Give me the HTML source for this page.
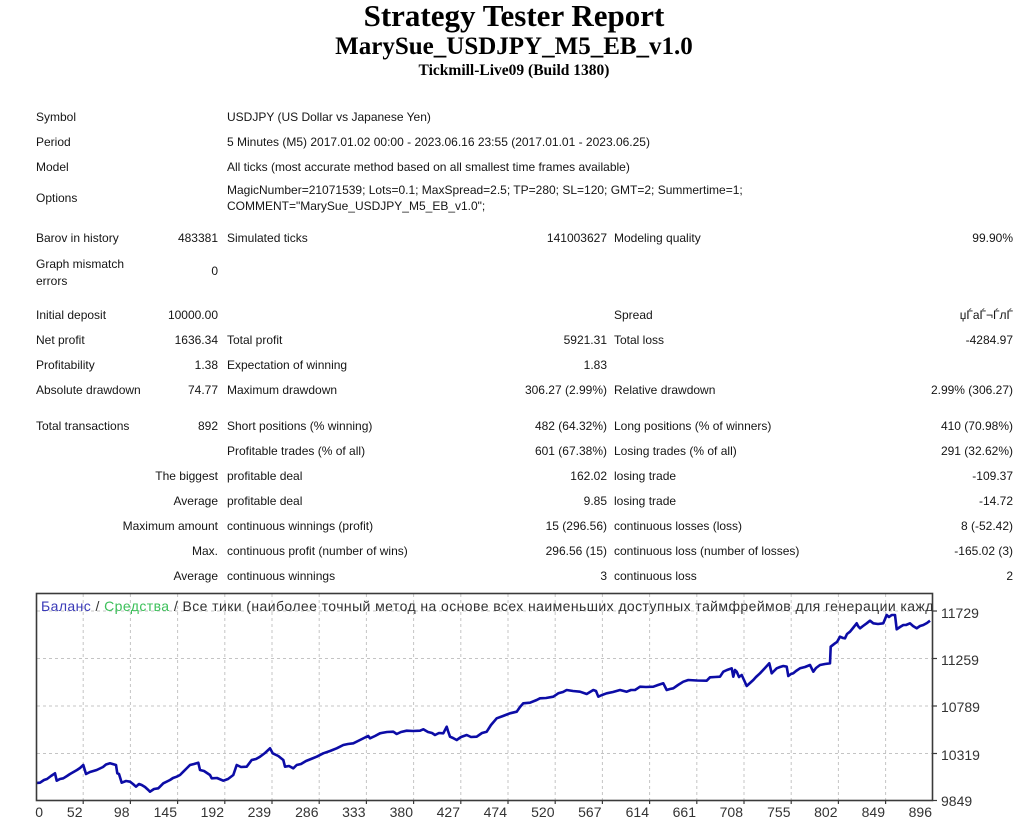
<!DOCTYPE html>
<html>
<head>
<meta charset="utf-8">
<style>
html,body{margin:0;padding:0;background:#fff;}
body{width:1024px;height:828px;position:relative;overflow:hidden;font-family:"Liberation Sans","DejaVu Sans",sans-serif;color:#151515;}
.t{position:absolute;font-size:12px;line-height:14px;white-space:nowrap;}
.r{text-align:right;}
.h{position:absolute;left:0;width:1028px;text-align:center;font-family:"Liberation Serif",serif;font-weight:bold;color:#000;white-space:nowrap;}
</style>
</head>
<body>
<div class="h" style="top:-2px;font-size:31px;line-height:36px;">Strategy Tester Report</div>
<div class="h" style="top:32px;font-size:25px;line-height:30px;">MarySue_USDJPY_M5_EB_v1.0</div>
<div class="h" style="top:62px;font-size:15.5px;line-height:18px;">Tickmill-Live09 (Build 1380)</div>

<!-- rows -->
<div class="t" style="left:36px;top:110px;">Symbol</div>
<div class="t" style="left:227px;top:110px;">USDJPY (US Dollar vs Japanese Yen)</div>

<div class="t" style="left:36px;top:135px;">Period</div>
<div class="t" style="left:227px;top:135px;">5 Minutes (M5) 2017.01.02 00:00 - 2023.06.16 23:55 (2017.01.01 - 2023.06.25)</div>

<div class="t" style="left:36px;top:160px;">Model</div>
<div class="t" style="left:227px;top:160px;">All ticks (most accurate method based on all smallest time frames available)</div>

<div class="t" style="left:36px;top:191px;">Options</div>
<div class="t" style="left:227px;top:183px;">MagicNumber=21071539; Lots=0.1; MaxSpread=2.5; TP=280; SL=120; GMT=2; Summertime=1;</div>
<div class="t" style="left:227px;top:199px;">COMMENT="MarySue_USDJPY_M5_EB_v1.0";</div>

<div class="t" style="left:36px;top:231px;">Barov in history</div>
<div class="t r" style="right:806px;top:231px;">483381</div>
<div class="t" style="left:227px;top:231px;">Simulated ticks</div>
<div class="t r" style="right:417px;top:231px;">141003627</div>
<div class="t" style="left:614px;top:231px;">Modeling quality</div>
<div class="t r" style="right:11px;top:231px;">99.90%</div>

<div class="t" style="left:36px;top:257px;">Graph mismatch</div>
<div class="t" style="left:36px;top:274px;">errors</div>
<div class="t r" style="right:806px;top:264px;">0</div>

<div class="t" style="left:36px;top:308px;">Initial deposit</div>
<div class="t r" style="right:806px;top:308px;">10000.00</div>
<div class="t" style="left:614px;top:308px;">Spread</div>
<div class="t r" style="right:11px;top:308px;">џЃаЃ¬ЃлЃ</div>

<div class="t" style="left:36px;top:333px;">Net profit</div>
<div class="t r" style="right:806px;top:333px;">1636.34</div>
<div class="t" style="left:227px;top:333px;">Total profit</div>
<div class="t r" style="right:417px;top:333px;">5921.31</div>
<div class="t" style="left:614px;top:333px;">Total loss</div>
<div class="t r" style="right:11px;top:333px;">-4284.97</div>

<div class="t" style="left:36px;top:358px;">Profitability</div>
<div class="t r" style="right:806px;top:358px;">1.38</div>
<div class="t" style="left:227px;top:358px;">Expectation of winning</div>
<div class="t r" style="right:417px;top:358px;">1.83</div>

<div class="t" style="left:36px;top:383px;">Absolute drawdown</div>
<div class="t r" style="right:806px;top:383px;">74.77</div>
<div class="t" style="left:227px;top:383px;">Maximum drawdown</div>
<div class="t r" style="right:417px;top:383px;">306.27 (2.99%)</div>
<div class="t" style="left:614px;top:383px;">Relative drawdown</div>
<div class="t r" style="right:11px;top:383px;">2.99% (306.27)</div>

<div class="t" style="left:36px;top:419px;">Total transactions</div>
<div class="t r" style="right:806px;top:419px;">892</div>
<div class="t" style="left:227px;top:419px;">Short positions (% winning)</div>
<div class="t r" style="right:417px;top:419px;">482 (64.32%)</div>
<div class="t" style="left:614px;top:419px;">Long positions (% of winners)</div>
<div class="t r" style="right:11px;top:419px;">410 (70.98%)</div>

<div class="t" style="left:227px;top:444px;">Profitable trades (% of all)</div>
<div class="t r" style="right:417px;top:444px;">601 (67.38%)</div>
<div class="t" style="left:614px;top:444px;">Losing trades (% of all)</div>
<div class="t r" style="right:11px;top:444px;">291 (32.62%)</div>

<div class="t r" style="right:806px;top:469px;">The biggest</div>
<div class="t" style="left:227px;top:469px;">profitable deal</div>
<div class="t r" style="right:417px;top:469px;">162.02</div>
<div class="t" style="left:614px;top:469px;">losing trade</div>
<div class="t r" style="right:11px;top:469px;">-109.37</div>

<div class="t r" style="right:806px;top:494px;">Average</div>
<div class="t" style="left:227px;top:494px;">profitable deal</div>
<div class="t r" style="right:417px;top:494px;">9.85</div>
<div class="t" style="left:614px;top:494px;">losing trade</div>
<div class="t r" style="right:11px;top:494px;">-14.72</div>

<div class="t r" style="right:806px;top:519px;">Maximum amount</div>
<div class="t" style="left:227px;top:519px;">continuous winnings (profit)</div>
<div class="t r" style="right:417px;top:519px;">15 (296.56)</div>
<div class="t" style="left:614px;top:519px;">continuous losses (loss)</div>
<div class="t r" style="right:11px;top:519px;">8 (-52.42)</div>

<div class="t r" style="right:806px;top:544px;">Max.</div>
<div class="t" style="left:227px;top:544px;">continuous profit (number of wins)</div>
<div class="t r" style="right:417px;top:544px;">296.56 (15)</div>
<div class="t" style="left:614px;top:544px;">continuous loss (number of losses)</div>
<div class="t r" style="right:11px;top:544px;">-165.02 (3)</div>

<div class="t r" style="right:806px;top:569px;">Average</div>
<div class="t" style="left:227px;top:569px;">continuous winnings</div>
<div class="t r" style="right:417px;top:569px;">3</div>
<div class="t" style="left:614px;top:569px;">continuous loss</div>
<div class="t r" style="right:11px;top:569px;">2</div>

<svg style="position:absolute;left:0;top:0;" width="1024" height="828" xmlns="http://www.w3.org/2000/svg">
  <defs>
    <clipPath id="c"><rect x="37" y="594" width="895" height="206"/></clipPath>
  </defs>
  <g stroke="#c4c4c4" stroke-width="1" stroke-dasharray="3,3" fill="none">
    <line x1="83.2" y1="594" x2="83.2" y2="800"/>
    <line x1="130.4" y1="594" x2="130.4" y2="800"/>
    <line x1="177.6" y1="594" x2="177.6" y2="800"/>
    <line x1="224.8" y1="594" x2="224.8" y2="800"/>
    <line x1="272" y1="594" x2="272" y2="800"/>
    <line x1="319.2" y1="594" x2="319.2" y2="800"/>
    <line x1="366.4" y1="594" x2="366.4" y2="800"/>
    <line x1="413.6" y1="594" x2="413.6" y2="800"/>
    <line x1="460.8" y1="594" x2="460.8" y2="800"/>
    <line x1="508" y1="594" x2="508" y2="800"/>
    <line x1="555.2" y1="594" x2="555.2" y2="800"/>
    <line x1="602.4" y1="594" x2="602.4" y2="800"/>
    <line x1="649.6" y1="594" x2="649.6" y2="800"/>
    <line x1="696.8" y1="594" x2="696.8" y2="800"/>
    <line x1="744" y1="594" x2="744" y2="800"/>
    <line x1="791.2" y1="594" x2="791.2" y2="800"/>
    <line x1="838.4" y1="594" x2="838.4" y2="800"/>
    <line x1="885.6" y1="594" x2="885.6" y2="800"/>
    <line x1="37" y1="611" x2="932" y2="611"/>
    <line x1="37" y1="658.5" x2="932" y2="658.5"/>
    <line x1="37" y1="706" x2="932" y2="706"/>
    <line x1="37" y1="753.5" x2="932" y2="753.5"/>
  </g>
  <g clip-path="url(#c)">
    <text x="41" y="611" font-family="Liberation Sans, DejaVu Sans, sans-serif" font-size="14" letter-spacing="0.42" fill="#333"><tspan fill="#3a3ab8">Баланс</tspan> / <tspan fill="#3cc05a">Средства</tspan> / Все тики (наиболее точный метод на основе всех наименьших доступных таймфреймов для генерации каждого тика)</text>
    <polyline fill="none" stroke="#0c0ca6" stroke-width="2.6" stroke-linejoin="round" points="36,783 40,782.7 44,780 47,779 51,776 55,773.3 56.7,780.7 60,779 63.3,778.3 67,776 70,774 77,770 80,768 83.3,765 86,774 90,772 96.7,770 103,767 106,764.5 110,763.3 116,765 117.3,773.3 119,774 121.7,782.7 126,781 130,781.7 133,784 136,786.7 139,784 141.7,785 145,787 148.3,790 150,791.7 154,789 158.3,788.3 163.3,783.3 170,780 173,778 176.7,776.7 180,775 183.3,771.7 187,768 190,765 194,764 198.3,762.7 200,770 204,771 210,775 211.7,778.3 217,778 223.3,780.7 228,779 233.3,775 236.7,765 241,767 246.7,766.7 251.7,760 256,759 260,756.7 265,753 270,748.3 272.7,753.3 278.3,756 283.3,760 285,766.7 289,766 293.3,768.3 296.7,765 301,764 306,761 311,759 316.7,756.7 323.3,753.3 330,751 336.7,748.3 343.3,745 348,744 353.3,743.3 360,740 366,737 368.3,736 370,738.3 375,736 380,733.3 387,732 393.3,731.7 396.7,734 401,732 406.7,730.7 413,731 420,730.7 423.3,729.3 428,732 432,733 435,735 439,733 443.3,733.3 446.7,726.7 448,731 450,736.7 453,738 456.7,740 461,737 466.7,735 471,737 476.7,736.7 482,733 486.7,731.7 491,725 496.7,718.3 503,716 510,713.3 516.7,711.7 520,707 523.3,703.3 530,702.7 536.7,700 540,698.3 546,698 553.3,696.7 558.3,693.3 563,692 566.7,690 573,691 580,691.7 586.7,694 590,692 593.3,690 596,691 598.3,696.7 602,695 606.7,693.3 613,692 620,690 626.7,691.7 631,690 635,690 640,686.7 646,687 653.3,686.7 658,685 663.3,683.3 666.7,690 670,689 673.3,688.3 678,685 683.3,681.7 688.3,680 697,680.5 706.7,680.7 710,677.3 715,677 720,676.7 723.3,671.7 727,670 731.7,668.3 733.3,676.7 735,670 736.7,671.7 739,677 741.7,675 744,680 746.7,686 750,683 753.3,680 756,677 760,673.3 765,668 769.3,663.3 771.7,673.3 774,671 776.7,668.3 780,667 783.3,666 786.7,666.7 788.3,676 791,674 793.3,673.3 796,671 800,668.3 805,667 810,665 813.3,671.7 816,668 820,665 825,664 830,663.3 830.7,646.7 835,643.3 837,642 840,636.7 843,638 845,638.3 847,634 850,631.7 853,628 856.7,623.3 858,626 860,628.3 863,626 866.7,623.3 870,620.7 873.3,623.3 878,624 883.3,623.3 886.7,615 889,617 891.7,615 895,615 896.7,629.3 900,627 903.3,625 906,625 910,623.3 913,626 916.7,628.3 920,626 923.3,625 927,623 930,620.7"/>
  </g>
  <!-- frame -->
  <rect x="36.5" y="593.5" width="896" height="207" fill="none" stroke="#3a3a3a" stroke-width="1.6"/>
  <g stroke="#3a3a3a" stroke-width="1.2">
    <line x1="932.5" y1="611" x2="937" y2="611"/>
    <line x1="932.5" y1="658.5" x2="937" y2="658.5"/>
    <line x1="932.5" y1="706" x2="937" y2="706"/>
    <line x1="932.5" y1="753.5" x2="937" y2="753.5"/>
    <line x1="932.5" y1="800.5" x2="937" y2="800.5"/>
    <line x1="83.2" y1="800.5" x2="83.2" y2="804"/>
    <line x1="130.4" y1="800.5" x2="130.4" y2="804"/>
    <line x1="177.6" y1="800.5" x2="177.6" y2="804"/>
    <line x1="224.8" y1="800.5" x2="224.8" y2="804"/>
    <line x1="272" y1="800.5" x2="272" y2="804"/>
    <line x1="319.2" y1="800.5" x2="319.2" y2="804"/>
    <line x1="366.4" y1="800.5" x2="366.4" y2="804"/>
    <line x1="413.6" y1="800.5" x2="413.6" y2="804"/>
    <line x1="460.8" y1="800.5" x2="460.8" y2="804"/>
    <line x1="508" y1="800.5" x2="508" y2="804"/>
    <line x1="555.2" y1="800.5" x2="555.2" y2="804"/>
    <line x1="602.4" y1="800.5" x2="602.4" y2="804"/>
    <line x1="649.6" y1="800.5" x2="649.6" y2="804"/>
    <line x1="696.8" y1="800.5" x2="696.8" y2="804"/>
    <line x1="744" y1="800.5" x2="744" y2="804"/>
    <line x1="791.2" y1="800.5" x2="791.2" y2="804"/>
    <line x1="838.4" y1="800.5" x2="838.4" y2="804"/>
    <line x1="885.6" y1="800.5" x2="885.6" y2="804"/>
  </g>
  <g font-family="Liberation Sans, DejaVu Sans, sans-serif" font-size="14" fill="#333">
    <text x="941" y="618">11729</text>
    <text x="941" y="665">11259</text>
    <text x="941" y="712">10789</text>
    <text x="941" y="760">10319</text>
    <text x="941" y="806">9849</text>
  </g>
  <g font-family="Liberation Sans, DejaVu Sans, sans-serif" font-size="14" fill="#333" text-anchor="end">
    <text x="43" y="817">0</text>
    <text x="82.5" y="817">52</text>
    <text x="129.5" y="817">98</text>
    <text x="177" y="817">145</text>
    <text x="224" y="817">192</text>
    <text x="271" y="817">239</text>
    <text x="318.5" y="817">286</text>
    <text x="365.5" y="817">333</text>
    <text x="413" y="817">380</text>
    <text x="460" y="817">427</text>
    <text x="507" y="817">474</text>
    <text x="554.5" y="817">520</text>
    <text x="601.5" y="817">567</text>
    <text x="649" y="817">614</text>
    <text x="696" y="817">661</text>
    <text x="743" y="817">708</text>
    <text x="790.5" y="817">755</text>
    <text x="837.5" y="817">802</text>
    <text x="885" y="817">849</text>
    <text x="932" y="817">896</text>
  </g>
</svg>
</body>
</html>
